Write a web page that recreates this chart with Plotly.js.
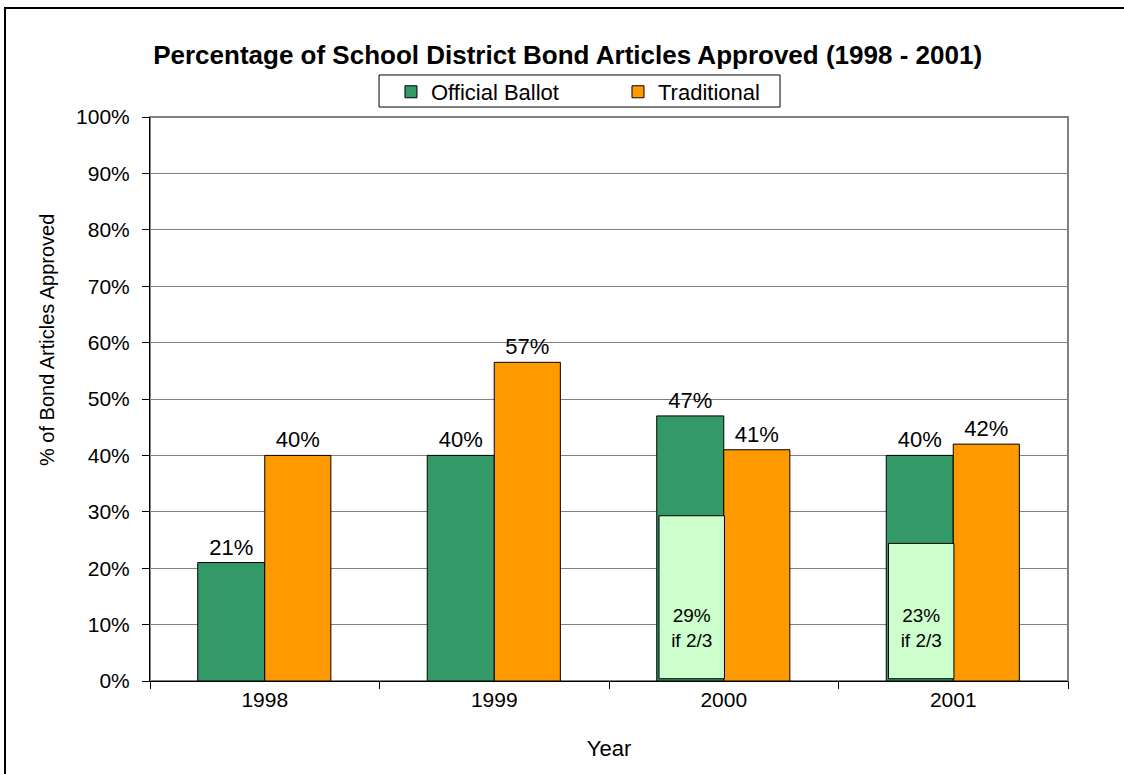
<!DOCTYPE html>
<html>
<head>
<meta charset="utf-8">
<script src="https://cdn.plot.ly/plotly-3.0.1.min.js"></script>
<style>
  html, body { margin: 0; padding: 0; background: #fff; overflow: hidden; }
  #wrap { position: relative; width: 1124px; height: 774px; overflow: hidden; }
  #frame { position: absolute; left: 4px; top: 7px; width: 1140px; height: 800px; border: 2px solid #000; box-sizing: border-box; pointer-events: none; z-index: 5; }
  #chart { position: absolute; left: 0; top: 0; width: 1124px; height: 774px; }
</style>
</head>
<body>
<div id="wrap">
  <div id="chart"></div>
  <div id="frame"></div>
</div>
<script>
const years = ['1998', '1999', '2000', '2001'];
const officialBallot = [21, 40, 47, 40];
const traditional = [40, 56.5, 41, 42];
const twoThirdsYears = ['2000', '2001'];
const twoThirdsBox = [29.3, 24.4];
const twoThirdsLabel = [29, 23];

const FONT = 'Liberation Sans, Arial, sans-serif';
const pct = v => Math.round(v) + '%';

const traces = [
  {
    type: 'bar', name: 'Official Ballot', x: years, y: officialBallot,
    offset: -0.292, width: 0.292,
    marker: { color: '#339966', line: { color: '#000', width: 1 } },
    text: officialBallot.map(pct), textposition: 'outside',
    textfont: { family: FONT, size: 22, color: '#000' },
    cliponaxis: false, hoverinfo: 'skip'
  },
  {
    type: 'bar', name: 'Traditional', x: years, y: traditional,
    offset: 0, width: 0.288,
    marker: { color: '#FF9900', line: { color: '#000', width: 1 } },
    text: traditional.map(pct), textposition: 'outside',
    textfont: { family: FONT, size: 22, color: '#000' },
    cliponaxis: false, hoverinfo: 'skip'
  },
  {
    type: 'bar', name: 'if 2/3', x: twoThirdsYears, y: twoThirdsBox.map(v => v - 0.4), base: 0.4,
    offset: -0.282, width: 0.285, showlegend: false,
    marker: { color: '#CCFFCC', line: { color: '#000', width: 1 } },
    text: twoThirdsLabel.map(v => v + '%<br>if 2/3<br>\u00a0'),
    textposition: 'inside', insidetextanchor: 'start', textangle: 0,
    insidetextfont: { family: FONT, size: 19, color: '#000' },
    hoverinfo: 'skip'
  }
];

const layout = {
  width: 1124, height: 774,
  margin: { l: 150, r: 56, t: 117, b: 93 },
  paper_bgcolor: '#fff', plot_bgcolor: '#fff',
  font: { family: FONT, size: 21, color: '#000' },
  title: {
    text: '<b>Percentage of School District Bond Articles Approved (1998 - 2001)</b>',
    font: { family: FONT, size: 26, color: '#000' },
    x: 0.505, xanchor: 'center', y: 0.929, yanchor: 'middle'
  },
  barmode: 'group',
  showlegend: true,
  legend: {
    orientation: 'h', x: 0.2625, xanchor: 'left', y: 1.0816, yanchor: 'top',
    borderwidth: 0, bgcolor: 'rgba(0,0,0,0)',
    font: { family: FONT, size: 22, color: '#000' }, entrywidth: 182, entrywidthmode: 'pixels',
    itemwidth: 30, traceorder: 'normal'
  },
  xaxis: {
    type: 'category', categoryorder: 'array', categoryarray: years,
    tickson: 'boundaries', ticks: 'outside', ticklen: 7, tickcolor: '#000',
    showline: true, linecolor: '#000', linewidth: 1, showgrid: false,
    tickfont: { family: FONT, size: 21, color: '#000' },
    title: { text: 'Year', font: { family: FONT, size: 22, color: '#000' }, standoff: 30 },
    automargin: false, fixedrange: true
  },
  yaxis: {
    range: [0, 100], dtick: 10, ticksuffix: '%',
    ticks: 'outside', ticklen: 7, tickcolor: '#000', ticklabelstandoff: 8,
    showline: true, linecolor: '#000', linewidth: 1,
    showgrid: true, gridcolor: '#808080', gridwidth: 1, zeroline: false,
    tickfont: { family: FONT, size: 21, color: '#000' },
    automargin: false, fixedrange: true
  },
  annotations: [
    { text: '% of Bond Articles Approved', xref: 'paper', yref: 'paper',
      x: -0.1122, y: 0.6046, xanchor: 'center', yanchor: 'middle', textangle: -90,
      showarrow: false, font: { family: FONT, size: 20, color: '#000' } }
  ],
  shapes: [
    { type: 'rect', xref: 'paper', yref: 'paper', x0: 0, x1: 1, y0: 0, y1: 1,
      line: { color: '#808080', width: 2 }, fillcolor: 'rgba(0,0,0,0)', layer: 'below' },
    { type: 'rect', xref: 'paper', yref: 'paper', x0: 0.2495, x1: 0.6863, y0: 1.0177, y1: 1.0745,
      line: { color: '#000', width: 1 }, fillcolor: 'rgba(0,0,0,0)', layer: 'above' }
  ]
};

Plotly.newPlot('chart', traces, layout, { displayModeBar: false, staticPlot: true });
</script>
</body>
</html>
